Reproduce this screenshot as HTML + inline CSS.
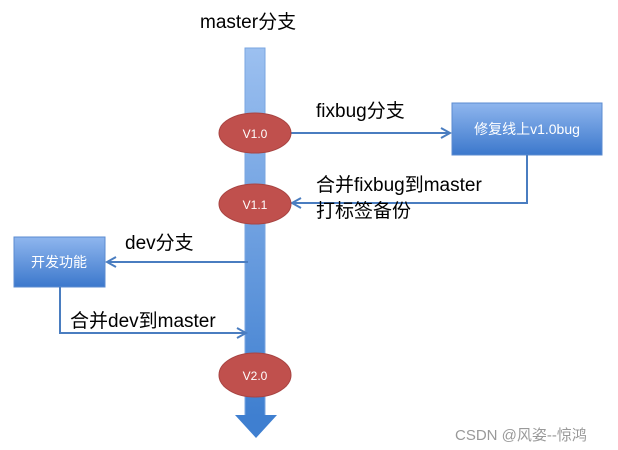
<!DOCTYPE html><html><head><meta charset="utf-8"><style>body{margin:0;background:#fff}svg{display:block}</style></head><body>
<svg width="618" height="450" xmlns="http://www.w3.org/2000/svg" font-family="Liberation Sans, Noto Sans CJK SC, sans-serif">
<defs>
<linearGradient id="bar" x1="0" y1="0" x2="0" y2="1"><stop offset="0" stop-color="#9cc0f0"/><stop offset="1" stop-color="#3f7fd0"/></linearGradient>
<linearGradient id="box" x1="0" y1="0" x2="0" y2="1"><stop offset="0" stop-color="#8fb6ee"/><stop offset="1" stop-color="#3c78cc"/></linearGradient>
<marker id="a" markerWidth="12" markerHeight="12" refX="10" refY="6" orient="auto" markerUnits="userSpaceOnUse"><path d="M1,1 L10,6 L1,11" fill="none" stroke="#4a7dc0" stroke-width="2"/></marker>
</defs>
<rect x="245" y="48" width="20" height="368" fill="url(#bar)" stroke="#7aa6e0"/>
<polygon points="235,415 277,415 256,438" fill="#3f7fd0"/>
<rect x="452" y="103" width="150" height="52" fill="url(#box)" stroke="#5b8bd0"/>
<rect x="14" y="237" width="91" height="50" fill="url(#box)" stroke="#5b8bd0"/>
<g stroke="#4a7dc0" stroke-width="2" fill="none">
<line x1="290" y1="133" x2="450" y2="133" marker-end="url(#a)"/>
<polyline points="527,155 527,203 292,203" marker-end="url(#a)"/>
<line x1="248" y1="262" x2="107" y2="262" marker-end="url(#a)"/>
<polyline points="60,287 60,333 246,333" marker-end="url(#a)"/>
</g>
<g fill="#c0504d" stroke="#a84442">
<ellipse cx="255" cy="133" rx="36" ry="20"/><ellipse cx="255" cy="204" rx="36" ry="20"/><ellipse cx="255" cy="375" rx="36" ry="22"/>
</g>
<g fill="#fff" font-size="12" text-anchor="middle"><text x="255" y="138">V1.0</text><text x="255" y="209">V1.1</text><text x="255" y="380">V2.0</text></g>
<g fill="#fff" font-size="14"><text x="527" y="134" text-anchor="middle">修复线上v1.0bug</text><text x="59" y="267" text-anchor="middle">开发功能</text></g>
<g fill="#000" font-size="19">
<text x="200" y="28">master分支</text>
<text x="316" y="117">fixbug分支</text>
<text x="316" y="191">合并fixbug到master</text>
<text x="316" y="217">打标签备份</text>
<text x="125" y="249">dev分支</text>
<text x="70" y="327">合并dev到master</text>
</g>
<text x="455" y="440" fill="#999" font-size="15">CSDN @风姿--惊鸿</text>
</svg></body></html>
